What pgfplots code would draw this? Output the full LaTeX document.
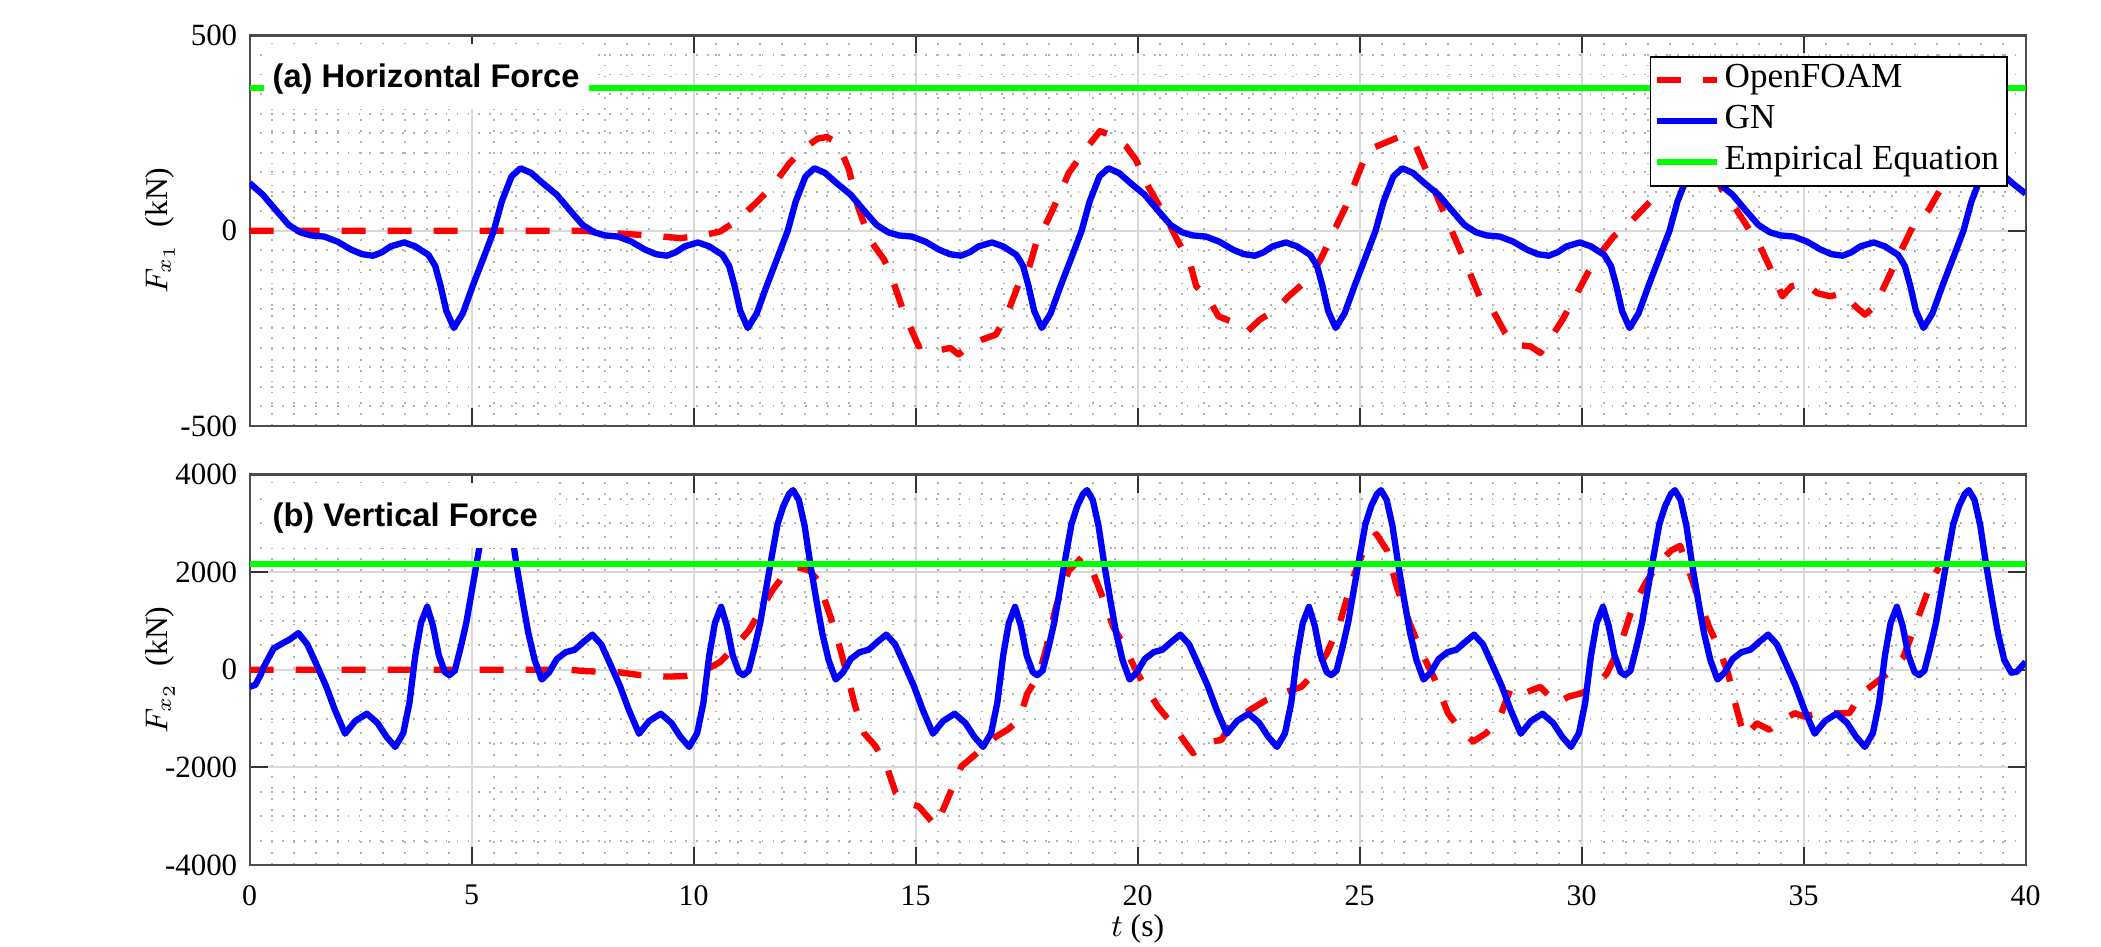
\documentclass[border=0pt]{standalone}
\usepackage{fontspec}
\setmainfont{Liberation Serif}
\newfontfamily\titlefont{Liberation Sans}
\usepackage{pgfplots}
\pgfplotsset{compat=1.18}
\definecolor{mgreen}{RGB}{0,255,0}
\tikzset{ttl/.style={anchor=base west, fill=white, inner xsep=0.9mm, inner ysep=1.4mm, text height=3.0mm, text depth=0.7mm, font=\titlefont\fontsize{9.3}{11}\selectfont\bfseries}}
\pgfplotsset{
  common/.style={
    scale only axis, width=17.76cm, height=3.905cm,
    anchor=south west,
    xmin=0, xmax=40,
    xtick={0,5,10,15,20,25,30,35,40},
    minor x tick num=9,
    grid=both,
    major grid style={black!15, line width=0.6pt},
    minor grid style={black!30, line width=0.55pt, dash pattern=on 0.5pt off 2.6pt},
    axis line style={black!70, line width=0.6pt},
    tick align=inside,
    major tick length=1.8mm, minor tick length=0pt,
    tick style={black!80, line width=0.6pt},
    yticklabel style={font=\fontsize{8.8}{10}\selectfont},
    xticklabel style={font=\fontsize{8.5}{10}\selectfont, yshift=-0.8mm},
    ylabel style={at={(axis description cs:-0.0504,0.5)}, anchor=center, font=\fontsize{9}{11}\selectfont},
    every axis plot/.append style={line width=1.8pt, line join=round},
  },
  ofoam/.style={red, dash pattern=on 2.4mm off 2.2mm},
  gn/.style={blue},
  emp/.style={mgreen},
}
\begin{document}
\begin{tikzpicture}
\useasboundingbox (0,0) rectangle (21.01,9.47);
% ---------------- top panel ----------------
\begin{axis}[common,
  at={(2.496cm,5.21cm)},
  ymin=-500, ymax=500,
  ytick={-500,0,500}, yticklabels={-500,0,500},
  minor y tick num=9,
  xticklabels={},
  ylabel={$F_{x_1}$\enspace(kN)},
  legend cell align=left,
  legend style={at={(0.990,0.948)}, anchor=north east, draw=black, line width=0.5pt,
    font=\fontsize{10}{12}\selectfont, inner sep=0.3mm, row sep=0pt,
    nodes={inner xsep=0.5mm, inner ysep=0pt, text height=2.8mm, text depth=1.3mm}},
]
\addplot[ofoam] coordinates {
(0,0)(3,0)(6,0)(7.5,0)(8.0,-5)(9.0,-12)(9.7,-19)(10.2,-12)(10.6,-2)(11.0,28)(11.44,75)(11.77,113)(12.16,173)(12.54,216)(12.8,236)(13.0,240)(13.25,224)(13.5,156)(13.7,62)(13.97,-23)(14.29,-74)(14.48,-125)(14.74,-211)(15.07,-296)(15.26,-288)(15.58,-305)(15.78,-300)(15.97,-317)(16.23,-292)(16.49,-279)(16.81,-266)(17.07,-211)(17.33,-134)(17.52,-108)(17.72,-30)(17.80,-15)(18.09,54)(18.45,148)(18.88,216)(19.15,255)(19.40,245)(19.74,216)(19.96,182)(20.24,113)(20.67,28)(20.89,-23)(21.18,-83)(21.32,-142)(21.61,-177)(21.82,-219)(22.18,-236)(22.47,-258)(22.75,-228)(23.11,-202)(23.40,-168)(23.83,-125)(24.12,-74)(24.40,-6)(24.69,62)(24.98,148)(25.19,207)(25.55,224)(25.91,241)(26.27,216)(26.56,139)(26.84,62)(27.13,-15)(27.42,-91)(27.70,-168)(27.99,-202)(28.28,-262)(28.49,-292)(28.85,-296)(29.07,-313)(29.28,-279)(29.57,-228)(29.86,-168)(30.14,-108)(30.43,-57)(30.72,-15)(31.15,28)(31.58,79)(31.85,125)(32.2,200)(32.5,235)(32.8,200)(33.16,105)(33.44,62)(33.73,11)(34.02,-40)(34.30,-108)(34.52,-168)(34.73,-142)(35.02,-134)(35.31,-160)(35.60,-168)(35.88,-160)(36.17,-194)(36.38,-215)(36.60,-194)(36.89,-125)(37.17,-57)(37.46,11)(37.82,54)(38.05,100)
};
\addlegendentry{OpenFOAM}
\addplot[gn] coordinates {
(0,122)(0.30,92)(0.62,49)(0.88,15)(1.14,-4)(1.38,-12)(1.68,-15)(1.98,-28)(2.28,-48)(2.53,-60)(2.78,-64)(2.98,-55)(3.18,-40)(3.48,-30)(3.73,-40)(4.03,-62)(4.18,-90)(4.30,-140)(4.43,-205)(4.60,-249)(4.80,-212)(5.03,-140)(5.28,-66)(5.50,0)(5.68,75)(5.90,139)
(6.10,160)(6.34,148)(6.60,122)(6.92,92)(7.24,49)(7.50,15)(7.76,-4)(8.00,-12)(8.30,-15)(8.60,-28)(8.90,-48)(9.15,-60)(9.40,-64)(9.60,-55)(9.80,-40)(10.10,-30)(10.35,-40)(10.65,-62)(10.80,-90)(10.92,-140)(11.05,-205)(11.22,-249)(11.42,-212)(11.65,-140)(11.90,-66)(12.12,0)(12.30,75)(12.52,139)
(12.72,160)(12.96,148)(13.22,122)(13.54,92)(13.86,49)(14.12,15)(14.38,-4)(14.62,-12)(14.92,-15)(15.22,-28)(15.52,-48)(15.77,-60)(16.02,-64)(16.22,-55)(16.42,-40)(16.72,-30)(16.97,-40)(17.27,-62)(17.42,-90)(17.54,-140)(17.67,-205)(17.84,-249)(18.04,-212)(18.27,-140)(18.52,-66)(18.74,0)(18.92,75)(19.14,139)
(19.34,160)(19.58,148)(19.84,122)(20.16,92)(20.48,49)(20.74,15)(21.00,-4)(21.24,-12)(21.54,-15)(21.84,-28)(22.14,-48)(22.39,-60)(22.64,-64)(22.84,-55)(23.04,-40)(23.34,-30)(23.59,-40)(23.89,-62)(24.04,-90)(24.16,-140)(24.29,-205)(24.46,-249)(24.66,-212)(24.89,-140)(25.14,-66)(25.36,0)(25.54,75)(25.76,139)
(25.96,160)(26.20,148)(26.46,122)(26.78,92)(27.10,49)(27.36,15)(27.62,-4)(27.86,-12)(28.16,-15)(28.46,-28)(28.76,-48)(29.01,-60)(29.26,-64)(29.46,-55)(29.66,-40)(29.96,-30)(30.21,-40)(30.51,-62)(30.66,-90)(30.78,-140)(30.91,-205)(31.08,-249)(31.28,-212)(31.51,-140)(31.76,-66)(31.98,0)(32.16,75)(32.38,139)
(32.58,160)(32.82,148)(33.08,122)(33.40,92)(33.72,49)(33.98,15)(34.24,-4)(34.48,-12)(34.78,-15)(35.08,-28)(35.38,-48)(35.63,-60)(35.88,-64)(36.08,-55)(36.28,-40)(36.58,-30)(36.83,-40)(37.13,-62)(37.28,-90)(37.40,-140)(37.53,-205)(37.70,-249)(37.90,-212)(38.13,-140)(38.38,-66)(38.60,0)(38.78,75)(39.00,139)
(39.20,160)(39.44,148)(39.70,122)(40.00,95)
};
\addlegendentry{GN}
\addplot[emp] coordinates {(0,366)(40,366)};
\addlegendentry{Empirical Equation}
\node[ttl] at (axis cs:0.30,366) {(a) Horizontal Force};
\end{axis}
% ---------------- bottom panel ----------------
\begin{axis}[common,
  at={(2.496cm,0.82cm)},
  ymin=-4000, ymax=4000,
  ytick={-4000,-2000,0,2000,4000}, yticklabels={-4000,-2000,0,2000,4000},
  minor y tick num=3,
  xticklabels={0,5,10,15,20,25,30,35,40},
  xlabel={$t$ (s)},
  xlabel style={at={(axis description cs:0.5,-0.164)}, anchor=center, font=\fontsize{9}{11}\selectfont},
  ylabel={$F_{x_2}$\enspace(kN)},
]
\addplot[ofoam] coordinates {
(0,0)(2,0)(4,0)(6,0)(7.2,0)(7.6,-30)(8.3,-50)(8.8,-110)(9.4,-140)(9.8,-130)(10.1,-70)(10.4,60)(10.6,160)(10.86,400)(11.25,810)(11.51,1220)(11.77,1625)(12.09,2000)(12.35,2100)(12.61,2030)(12.80,1830)(13.06,1150)(13.25,600)(13.45,-75)(13.64,-750)(13.84,-1300)(14.10,-1570)(14.35,-1980)(14.55,-2520)(14.81,-2730)(15.07,-2800)(15.26,-3000)(15.45,-3200)(15.65,-2800)(15.84,-2390)(16.03,-1980)(16.29,-1780)(16.55,-1570)(16.81,-1370)(17.07,-1230)(17.33,-1030)(17.52,-480)(17.78,-100)(17.95,470)(18.16,1285)(18.45,2030)(18.74,2300)(18.95,2100)(19.24,1420)(19.45,880)(19.67,540)(19.96,-10)(20.17,-350)(20.46,-760)(20.82,-1160)(21.03,-1435)(21.25,-1710)(21.54,-1500)(21.89,-1435)(22.11,-1095)(22.54,-820)(22.90,-620)(23.26,-480)(23.69,-350)(23.97,-75)(24.26,330)(24.55,945)(24.83,1830)(25.12,2510)(25.38,2780)(25.62,2440)(25.84,1690)(26.13,945)(26.41,330)(26.70,-210)(26.99,-890)(27.27,-1230)(27.56,-1470)(27.85,-1300)(28.13,-1030)(28.42,-350)(28.71,-480)(29.07,-350)(29.43,-690)(29.71,-550)(30.00,-480)(30.29,-350)(30.57,-75)(30.86,470)(31.15,1285)(31.43,1760)(31.72,2170)(32.01,2440)(32.22,2540)(32.44,1965)(32.65,1420)(32.87,880)(33.08,470)(33.30,-75)(33.44,-620)(33.66,-1370)(33.95,-1100)(34.23,-1230)(34.52,-1030)(34.80,-890)(35.02,-960)(35.31,-890)(35.67,-890)(36.03,-890)(36.32,-480)(36.60,-280)(36.89,-75)(37.25,265)(37.53,945)(37.75,1490)(37.96,1965)(38.05,2100)
};
\addplot[gn] coordinates {
(0,-350)(0.13,-310)(0.25,-100)(0.32,60)(0.54,435)(0.70,520)(0.90,620)(1.10,750)(1.30,520)(1.50,120)(1.72,-330)(1.92,-820)(2.15,-1310)(2.38,-1050)(2.64,-900)(2.88,-1090)(3.08,-1370)(3.28,-1580)(3.46,-1300)(3.60,-680)(3.73,280)(3.86,960)(4.00,1290)(4.13,900)(4.26,300)(4.40,-50)(4.50,-110)(4.62,-20)(4.76,480)(4.88,960)(5.01,1640)(5.14,2320)(5.27,2980)(5.40,3350)(5.53,3600)
(5.62,3680)(5.75,3480)(5.88,2950)(6.02,2100)(6.15,1400)(6.28,740)(6.42,200)(6.58,-200)(6.74,-60)(6.92,220)(7.12,360)(7.32,410)(7.52,570)(7.72,720)(7.92,520)(8.12,120)(8.34,-330)(8.54,-820)(8.77,-1310)(9.00,-1050)(9.26,-900)(9.50,-1090)(9.70,-1370)(9.90,-1580)(10.08,-1300)(10.22,-680)(10.35,280)(10.48,960)(10.62,1290)(10.75,900)(10.88,300)(11.02,-50)(11.12,-110)(11.24,-20)(11.38,480)(11.50,960)(11.63,1640)(11.76,2320)(11.89,2980)(12.02,3350)(12.15,3600)
(12.24,3680)(12.37,3480)(12.50,2950)(12.64,2100)(12.77,1400)(12.90,740)(13.04,200)(13.20,-200)(13.36,-60)(13.54,220)(13.74,360)(13.94,410)(14.14,570)(14.34,720)(14.54,520)(14.74,120)(14.96,-330)(15.16,-820)(15.39,-1310)(15.62,-1050)(15.88,-900)(16.12,-1090)(16.32,-1370)(16.52,-1580)(16.70,-1300)(16.84,-680)(16.97,280)(17.10,960)(17.24,1290)(17.37,900)(17.50,300)(17.64,-50)(17.74,-110)(17.86,-20)(18.00,480)(18.12,960)(18.25,1640)(18.38,2320)(18.51,2980)(18.64,3350)(18.77,3600)
(18.86,3680)(18.99,3480)(19.12,2950)(19.26,2100)(19.39,1400)(19.52,740)(19.66,200)(19.82,-200)(19.98,-60)(20.16,220)(20.36,360)(20.56,410)(20.76,570)(20.96,720)(21.16,520)(21.36,120)(21.58,-330)(21.78,-820)(22.01,-1310)(22.24,-1050)(22.50,-900)(22.74,-1090)(22.94,-1370)(23.14,-1580)(23.32,-1300)(23.46,-680)(23.59,280)(23.72,960)(23.86,1290)(23.99,900)(24.12,300)(24.26,-50)(24.36,-110)(24.48,-20)(24.62,480)(24.74,960)(24.87,1640)(25.00,2320)(25.13,2980)(25.26,3350)(25.39,3600)
(25.48,3680)(25.61,3480)(25.74,2950)(25.88,2100)(26.01,1400)(26.14,740)(26.28,200)(26.44,-200)(26.60,-60)(26.78,220)(26.98,360)(27.18,410)(27.38,570)(27.58,720)(27.78,520)(27.98,120)(28.20,-330)(28.40,-820)(28.63,-1310)(28.86,-1050)(29.12,-900)(29.36,-1090)(29.56,-1370)(29.76,-1580)(29.94,-1300)(30.08,-680)(30.21,280)(30.34,960)(30.48,1290)(30.61,900)(30.74,300)(30.88,-50)(30.98,-110)(31.10,-20)(31.24,480)(31.36,960)(31.49,1640)(31.62,2320)(31.75,2980)(31.88,3350)(32.01,3600)
(32.10,3680)(32.23,3480)(32.36,2950)(32.50,2100)(32.63,1400)(32.76,740)(32.90,200)(33.06,-200)(33.22,-60)(33.40,220)(33.60,360)(33.80,410)(34.00,570)(34.20,720)(34.40,520)(34.60,120)(34.82,-330)(35.02,-820)(35.25,-1310)(35.48,-1050)(35.74,-900)(35.98,-1090)(36.18,-1370)(36.38,-1580)(36.56,-1300)(36.70,-680)(36.83,280)(36.96,960)(37.10,1290)(37.23,900)(37.36,300)(37.50,-50)(37.60,-110)(37.72,-20)(37.86,480)(37.98,960)(38.11,1640)(38.24,2320)(38.37,2980)(38.50,3350)(38.63,3600)
(38.72,3680)(38.85,3480)(38.98,2950)(39.12,2100)(39.25,1400)(39.38,740)(39.52,200)(39.68,-60)(39.80,-40)(40.00,160)
};
\addplot[emp] coordinates {(0,2170)(40,2170)};
\node[ttl] at (axis cs:0.30,2933) {(b) Vertical Force};
\end{axis}
\end{tikzpicture}
\end{document}
